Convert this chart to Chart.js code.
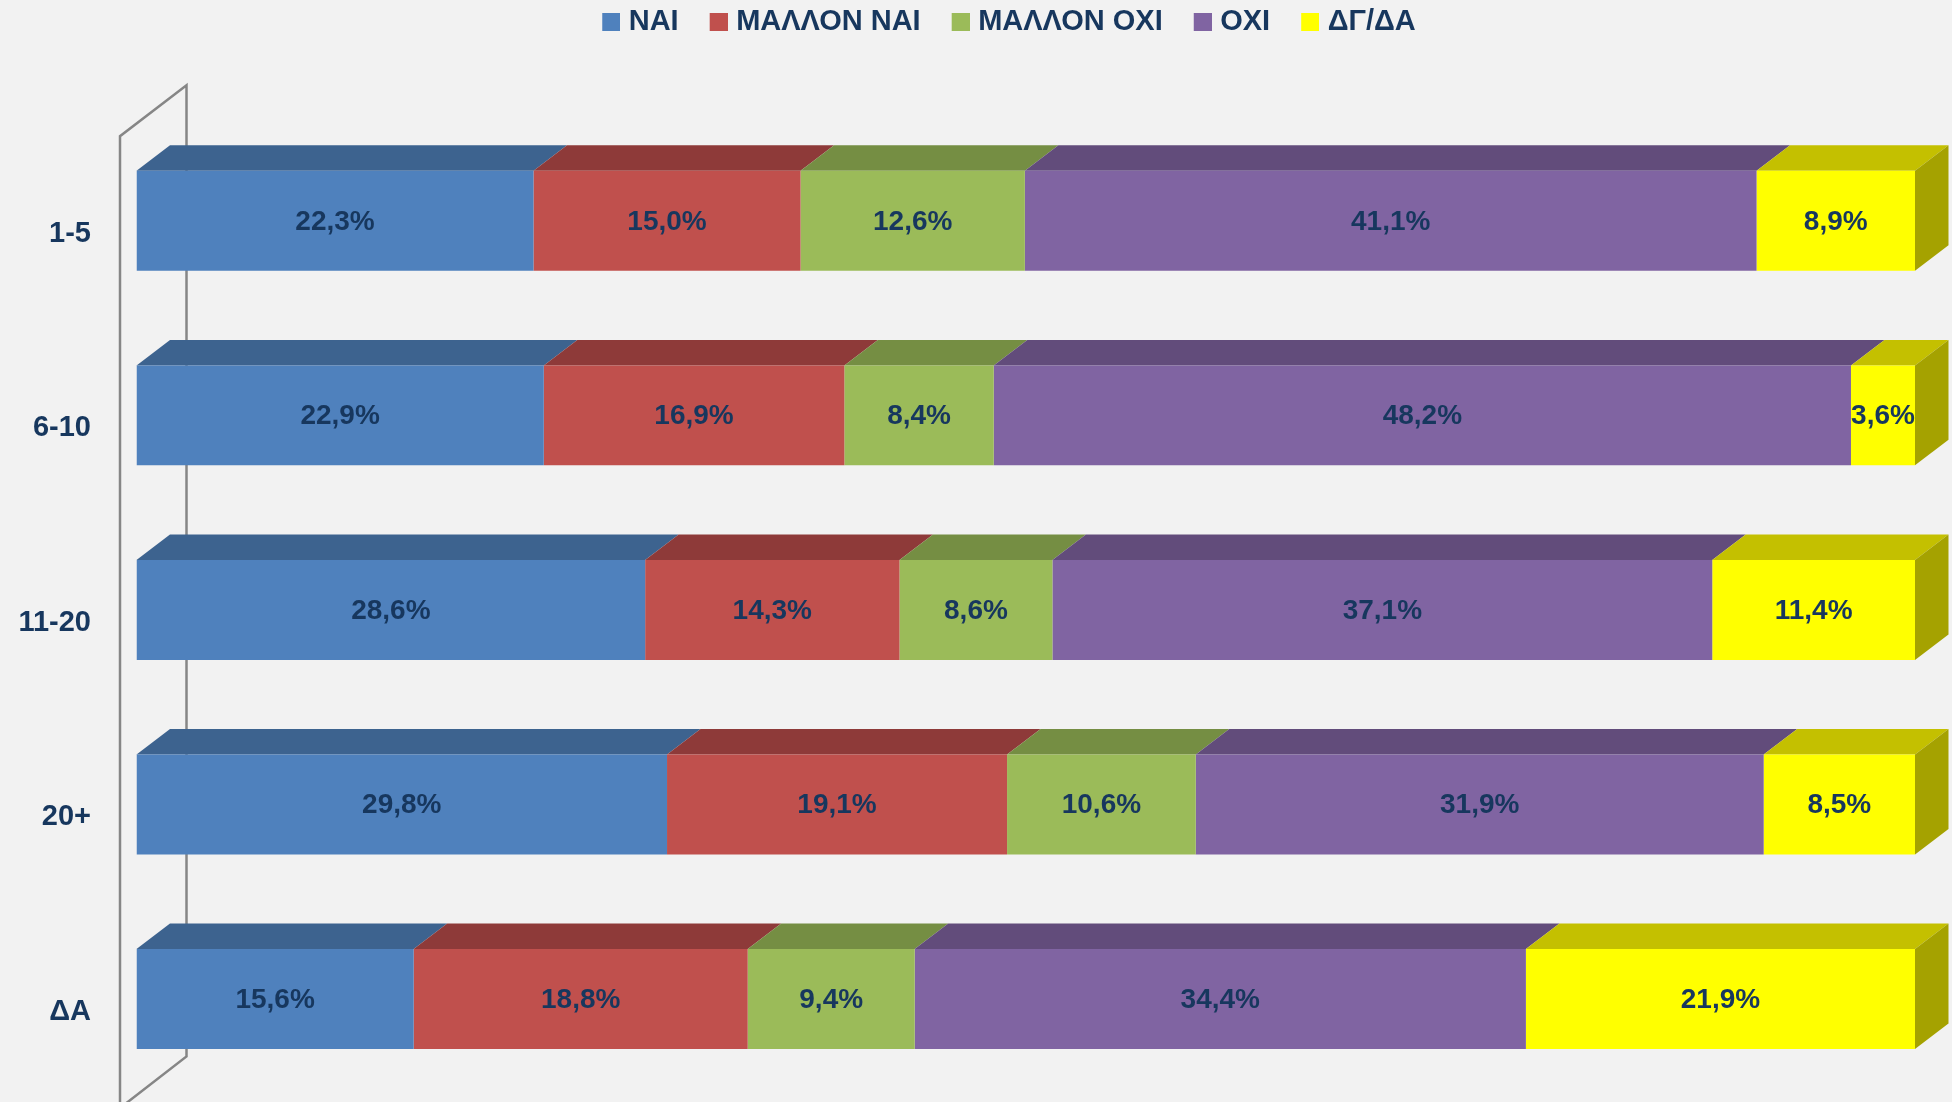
<!DOCTYPE html>
<html>
<head>
<meta charset="utf-8">
<title>Chart</title>
<script src="https://cdn.jsdelivr.net/npm/chart.js@4/dist/chart.umd.min.js"></script>
<style>
html, body { margin: 0; padding: 0; background: #f2f2f2; overflow: hidden; }
canvas { display: block; }
</style>
</head>
<body>
<canvas id="stackedChart" width="1952" height="1102"></canvas>
<script>
var categories = ['1-5', '6-10', '11-20', '20+', 'ΔΑ'];
var seriesNames = ['ΝΑΙ', 'ΜΑΛΛΟΝ ΝΑΙ', 'ΜΑΛΛΟΝ ΟΧΙ', 'ΟΧΙ', 'ΔΓ/ΔΑ'];

var nai = [22.3, 22.9, 28.6, 29.8, 15.6];
var mallonNai = [15.0, 16.9, 14.3, 19.1, 18.8];
var mallonOxi = [12.6, 8.4, 8.6, 10.6, 9.4];
var oxi = [41.1, 48.2, 37.1, 31.9, 34.4];
var dgDa = [8.9, 3.6, 11.4, 8.5, 21.9];

var seriesValues = [nai, mallonNai, mallonOxi, oxi, dgDa];

var frontColors = ['#4f81bd', '#c0504d', '#9bbb59', '#8064a2', '#ffff00'];
var topColors = ['#3d638f', '#8e3a39', '#758e43', '#624c7b', '#c4c000'];
var sideColor = '#a5a200';
var textColor = '#17375e';
var wallColor = '#868686';
var fontFamily = '"Liberation Sans", Arial, sans-serif';

// Profundidad del efecto 3D
var depthX = 33.5;
var depthY = 25.5;

function fillFace(ctx, points, color) {
    ctx.beginPath();
    ctx.moveTo(points[0][0], points[0][1]);
    for (var i = 1; i < points.length; i++) {
        ctx.lineTo(points[i][0], points[i][1]);
    }
    ctx.closePath();
    ctx.fillStyle = color;
    ctx.fill();
}

// Barra 100%: las etiquetas guardan el valor leído
function rowTotal(row) {
    return seriesValues.reduce(function (sum, s) { return sum + s[row]; }, 0);
}

// Muestra de leyenda: cuadrado pegado al lado derecho para acercarlo al texto
function legendSwatch(color) {
    var swatch = document.createElement('canvas');
    swatch.width = 30;
    swatch.height = 18;
    var ctx = swatch.getContext('2d');
    ctx.fillStyle = color;
    ctx.fillRect(12, 0, 18, 18);
    return swatch;
}

var datasets = seriesNames.map(function (name, s) {
    return {
        label: name,
        data: seriesValues[s].map(function (v, row) { return v / rowTotal(row) * 100; }),
        backgroundColor: frontColors[s],
        borderWidth: 0,
        barPercentage: 0.514,
        categoryPercentage: 1
    };
});

var bars3d = {
    id: 'bars3d',
    afterLayout: function (chart) {
        // La leyenda va más arriba que su padding y centrada sobre las barras
        chart.legend.top = -17.5;
        chart.legend.left += 43.5;
        chart.legend.right += 43.5;
    },
    beforeDatasetsDraw: function (chart) {
        var ctx = chart.ctx;
        var area = chart.chartArea;

        // Pared del eje
        var frontX = area.left - 16.5;
        var backX = frontX + 66.5;
        ctx.save();
        ctx.strokeStyle = wallColor;
        ctx.lineWidth = 2.5;
        ctx.beginPath();
        ctx.moveTo(frontX, area.bottom + 14);
        ctx.lineTo(frontX, area.top + 12.6);
        ctx.lineTo(backX, area.top - 38.4);
        ctx.lineTo(backX, area.bottom - 39.7);
        ctx.lineTo(frontX, area.bottom + 11.8);
        ctx.stroke();

        // Caras superiores y lateral
        seriesNames.forEach(function (name, s) {
            chart.getDatasetMeta(s).data.forEach(function (bar) {
                var top = bar.y - bar.height / 2;
                var bottom = bar.y + bar.height / 2;
                fillFace(ctx, [[bar.base, top], [bar.x, top], [bar.x + depthX, top - depthY], [bar.base + depthX, top - depthY]], topColors[s]);
                if (s === seriesNames.length - 1) {
                    fillFace(ctx, [[bar.x, top], [bar.x + depthX, top - depthY], [bar.x + depthX, bottom - depthY], [bar.x, bottom]], sideColor);
                }
            });
        });
        ctx.restore();
    },
    afterDatasetsDraw: function (chart) {
        var ctx = chart.ctx;
        ctx.save();
        ctx.font = 'bold 28px ' + fontFamily;
        ctx.fillStyle = textColor;
        ctx.textAlign = 'center';
        ctx.textBaseline = 'middle';
        seriesNames.forEach(function (name, s) {
            chart.getDatasetMeta(s).data.forEach(function (bar, row) {
                var label = seriesValues[s][row].toFixed(1).replace('.', ',') + '%';
                ctx.fillText(label, (bar.base + bar.x) / 2, bar.y + 1);
            });
        });
        ctx.restore();
    }
};

new Chart(document.getElementById('stackedChart'), {
    type: 'bar',
    data: { labels: categories, datasets: datasets },
    plugins: [bars3d],
    options: {
        indexAxis: 'y',
        responsive: false,
        animation: false,
        layout: { padding: { left: 10, right: 37, top: 59.6, bottom: 5.6 } },
        scales: {
            x: { stacked: true, min: 0, max: 100, display: false },
            y: {
                stacked: true,
                // La marca invisible separa las etiquetas sin añadir padding vertical
                grid: { display: false, drawTicks: true, tickLength: 45.5 },
                border: { display: false },
                afterFit: function (scale) { scale.width = 126.5; },
                ticks: {
                    padding: 0,
                    labelOffset: 13,
                    color: textColor,
                    font: { family: fontFamily, size: 29, weight: 'bold', lineHeight: 0.4 }
                }
            }
        },
        plugins: {
            tooltip: { enabled: false },
            legend: {
                position: 'top',
                labels: {
                    boxWidth: 18,
                    boxHeight: 18,
                    padding: 25,
                    usePointStyle: true,
                    color: textColor,
                    font: { family: fontFamily, size: 29, weight: 'bold' },
                    generateLabels: function (chart) {
                        var items = Chart.defaults.plugins.legend.labels.generateLabels(chart);
                        return items.map(function (item, i) {
                            item.pointStyle = legendSwatch(frontColors[i]);
                            return item;
                        });
                    }
                }
            }
        }
    }
});
</script>
</body>
</html>
